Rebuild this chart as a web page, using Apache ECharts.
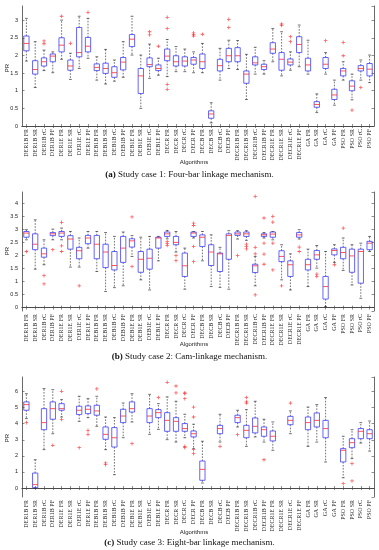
<!DOCTYPE html>
<html><head><meta charset="utf-8">
<script src="https://cdn.jsdelivr.net/npm/echarts@6/dist/echarts.min.js"></script>
<style>html,body{margin:0;padding:0;background:#fff}#c{width:379px;height:550px}</style>
</head><body><div id="c"></div>
<script>
const categories = [
 'DER1B FR','DER1B SR','DER1B rC','DER1B PF','DER1E FR','DER1E SR','DER1E rC','DER1E PF',
 'DEB1B FR','DEB1B SR','DEB1B rC','DEB1B PF','DEB1E FR','DEB1E SR','DEB1E rC','DEB1E PF',
 'DECR FR','DECR SR','DECR rC','DECR PF','DECB FR','DECB SR','DECB rC','DECB PF',
 'DECR1B FR','DECR1B SR','DECR1B rC','DECR1B PF','DECR1E FR','DECR1E SR','DECR1E rC','DECR1E PF',
 'GA FR','GA SR','GA rC','GA PF','PSO FR','PSO SR','PSO rC','PSO PF'];

// Panel (a) Four-bar linkage
const aLow  = [1.84,1.09,1.57,1.51,1.89,1.32,1.63,1.92,1.30,1.19,1.27,1.38,2.01,0.50,1.35,1.44,1.40,1.54,1.54,1.51,1.51,0.09,1.30,1.63,1.60,0.75,1.47,1.47,1.82,1.42,1.58,1.68,1.47,0.38,1.47,0.59,1.30,0.74,1.30,1.23];
const aQ1   = [2.13,1.47,1.70,1.82,2.10,1.58,1.96,2.10,1.57,1.49,1.38,1.59,2.25,0.92,1.68,1.57,1.85,1.70,1.70,1.75,1.63,0.22,1.56,1.82,1.82,1.21,1.73,1.60,2.06,1.58,1.73,2.08,1.56,0.53,1.63,0.75,1.42,1.00,1.56,1.42];
const aMed  = [2.34,1.60,1.82,1.98,2.29,1.70,2.08,2.26,1.66,1.63,1.51,1.81,2.46,1.42,1.74,1.63,1.98,1.82,1.84,1.87,1.82,0.34,1.71,1.99,1.99,1.47,1.79,1.68,2.18,1.89,1.81,2.31,1.73,0.61,1.75,0.88,1.56,1.13,1.63,1.61];
const aQ3   = [2.55,1.85,1.93,2.04,2.50,1.87,2.79,2.51,1.76,1.78,1.68,1.94,2.59,1.63,1.93,1.73,2.18,1.99,1.96,1.94,2.04,0.43,1.89,2.20,2.22,1.56,1.96,1.75,2.36,2.08,1.90,2.53,1.92,0.69,1.94,1.04,1.63,1.28,1.71,1.77];
const aHigh = [3.05,2.39,2.15,2.10,3.00,2.06,3.11,3.05,1.96,2.17,1.87,2.39,3.11,2.01,2.32,1.92,2.45,2.25,2.18,2.10,2.34,0.66,2.20,2.43,2.42,2.03,2.23,1.85,2.76,2.67,2.10,2.86,2.43,0.91,2.08,1.30,1.82,1.47,1.87,2.01];
const aOut  = [[2,2.41],[2,2.33],[4,3.11],[5,2.34],[7,3.22],[14,2.67],[14,2.58],[15,2.26],[16,3.08],[16,2.76],[16,1.18],[16,1.04],[19,2.64],[19,2.59],[19,2.55],[20,2.60],[23,3.02],[23,2.79],[29,2.89],[29,2.85],[30,2.53],[30,2.39],[34,2.42],[36,2.37],[36,1.99],[37,0.45],[38,1.09]];

// Panel (b) Cam-linkage
const bLow  = [2.61,1.48,1.65,2.61,2.61,1.56,1.56,2.29,1.39,0.62,0.77,0.84,1.97,1.07,0.68,1.80,2.65,2.14,0.71,2.68,1.80,0.81,0.78,0.71,2.64,2.59,0.84,2.68,2.61,1.07,0.68,2.64,0.81,1.52,0.04,1.74,1.43,0.87,0.36,2.16];
const bQ1   = [2.71,2.23,1.94,2.77,2.74,2.25,1.88,2.46,1.88,1.54,1.45,1.74,2.33,1.36,1.48,2.29,2.74,2.42,1.20,2.74,2.35,1.62,1.39,1.86,2.78,2.74,1.35,2.74,2.71,1.77,1.20,2.71,1.45,1.86,0.33,2.03,1.88,1.36,0.94,2.23];
const bMed  = [2.87,2.44,2.07,2.84,2.87,2.64,2.19,2.68,2.44,2.14,1.62,2.29,2.57,1.86,1.90,2.68,2.84,2.51,1.61,2.87,2.71,2.14,2.07,2.78,2.84,2.84,1.61,2.80,2.83,1.97,1.65,2.80,1.65,2.03,0.81,2.20,2.12,1.99,2.16,2.48];
const bQ3   = [2.93,2.84,2.29,2.89,2.93,2.77,2.32,2.78,2.78,2.44,2.16,2.74,2.65,2.16,2.25,2.71,2.91,2.74,2.10,2.91,2.80,2.42,2.10,2.84,2.91,2.91,1.67,2.84,2.91,2.19,1.80,2.89,1.86,2.20,1.20,2.26,2.32,2.25,2.25,2.55];
const bHigh = [3.00,3.38,2.61,3.02,3.06,2.93,2.68,2.93,2.93,2.89,2.74,2.91,2.77,2.71,2.74,2.74,2.97,2.93,2.29,2.93,2.93,2.80,2.32,2.96,2.96,2.96,1.97,2.89,2.93,2.42,2.07,3.00,2.25,2.39,2.16,2.42,2.68,2.42,2.48,2.74];
const bOut  = [[0,2.16],[2,1.23],[2,0.91],[3,2.23],[4,3.28],[4,2.38],[4,2.16],[6,0.84],[12,3.49],[12,1.58],[16,2.55],[16,2.46],[16,2.39],[17,2.00],[17,1.81],[19,3.25],[19,3.16],[19,2.35],[19,1.77],[24,2.00],[25,2.44],[25,2.35],[25,2.26],[26,4.28],[26,2.32],[26,2.07],[26,0.49],[27,3.45],[27,2.48],[27,2.06],[27,1.67],[28,3.51],[28,3.29],[28,2.48],[28,1.45],[29,0.84],[31,2.33],[31,2.16],[33,1.29],[33,1.20],[35,1.65],[36,3.06]];

// Panel (c) Eight-bar linkage (null = no box)
const cLow  = [4.32,0.00,2.39,3.38,4.42,null,4.15,4.38,3.84,2.39,0.83,3.13,4.11,null,3.34,3.65,3.01,2.86,3.13,2.45,0.31,null,2.86,null,3.80,2.59,3.18,2.86,2.35,null,3.38,null,2.59,2.86,1.62,null,0.64,1.83,2.80,2.30];
const cQ1   = [4.84,0.02,3.63,4.28,4.84,null,4.57,4.63,4.53,3.03,2.55,4.07,4.73,null,4.07,4.38,3.53,3.53,3.53,3.18,0.48,null,3.38,null,4.07,3.13,3.43,3.22,2.93,null,3.94,null,3.63,3.80,3.13,null,1.62,2.51,3.07,3.07];
const cMed  = [5.19,0.21,4.07,4.94,4.94,null,4.84,4.90,4.80,3.34,3.13,4.48,4.94,null,4.48,4.69,4.21,4.15,3.70,3.38,1.16,null,3.70,null,4.38,3.59,3.84,3.63,3.22,null,4.21,null,4.07,4.21,3.70,null,2.35,2.82,3.53,3.38];
const cQ3   = [5.36,0.93,4.94,5.36,5.25,null,5.09,5.11,5.15,3.80,3.76,4.90,5.36,null,4.94,4.88,4.69,4.38,4.01,3.55,1.68,null,3.90,null,4.53,3.90,4.36,3.80,3.55,null,4.46,null,4.42,4.67,4.21,null,2.45,3.07,3.70,3.63];
const cHigh = [5.87,1.76,6.19,6.12,5.50,null,5.71,5.56,5.71,4.42,4.38,5.29,5.87,null,5.83,5.25,5.67,5.40,4.59,3.97,2.91,null,4.59,null,4.84,4.88,5.40,4.28,4.11,null,4.80,null,5.04,5.19,5.63,null,3.22,3.63,4.07,4.17];
const cOut  = [[0,4.07],[3,2.66],[4,6.02],[4,4.26],[6,2.51],[7,3.59],[7,3.34],[8,6.17],[9,1.56],[9,1.45],[12,2.76],[15,5.63],[16,6.58],[17,6.35],[17,5.92],[18,5.92],[18,5.87],[18,5.56],[18,2.59],[18,2.51],[19,5.04],[19,4.42],[19,2.39],[19,2.14],[22,2.59],[24,3.32],[25,5.63],[25,5.36],[25,5.29],[27,1.76],[30,5.29],[36,0.27],[37,1.52],[37,0.44]];

const yTicksA = {min:0, max:3.4, interval:0.5};
const yTicksB = {min:-0.13, max:4.45, splitNumber:9};
const yTicksC = {min:-0.56, max:6.91, splitNumber:7};

const captions = [
  {tag:'(a)', text:' Study case 1: Four-bar linkage mechanism.'},
  {tag:'(b)', text:' Study case 2: Cam-linkage mechanism.'},
  {tag:'(c)', text:' Study case 3: Eight-bar linkage mechanism.'}
];

const gridsPos = [{top:6,height:120},{top:192,height:119},{top:377,height:120}];
const axisColor = '#444';
const SERIF = '"Liberation Serif","DejaVu Serif",serif';
const SANS = '"Liberation Sans","DejaVu Sans",sans-serif';

function boxData(lo,q1,md,q3,hi){
  const out=[];
  for(let i=0;i<categories.length;i++){
    if(lo[i]==null) continue;
    out.push([i,lo[i],q1[i],md[i],q3[i],hi[i]]);
  }
  return out;
}
function renderBox(params, api){
  const x = api.value(0);
  const pLo=api.coord([x,api.value(1)]), pQ1=api.coord([x,api.value(2)]), pMd=api.coord([x,api.value(3)]),
        pQ3=api.coord([x,api.value(4)]), pHi=api.coord([x,api.value(5)]);
  const band = api.size([1,0])[0];
  const bw = band*0.6, cw = band*0.32;
  const cx = pMd[0];
  const dash = {stroke:'#111',lineWidth:0.6,lineDash:[1.6,1.4]};
  const solid = {stroke:'#111',lineWidth:0.6};
  return {type:'group', children:[
    {type:'line', shape:{x1:cx,y1:pQ3[1],x2:cx,y2:pHi[1]}, style:dash},
    {type:'line', shape:{x1:cx,y1:pQ1[1],x2:cx,y2:pLo[1]}, style:dash},
    {type:'line', shape:{x1:cx-cw/2,y1:pHi[1],x2:cx+cw/2,y2:pHi[1]}, style:solid},
    {type:'line', shape:{x1:cx-cw/2,y1:pLo[1],x2:cx+cw/2,y2:pLo[1]}, style:solid},
    {type:'rect', shape:{x:cx-bw/2,y:pQ3[1],width:bw,height:pQ1[1]-pQ3[1]}, style:{fill:'none',stroke:'#3d3dff',lineWidth:0.8}},
    {type:'line', shape:{x1:cx-bw/2,y1:pMd[1],x2:cx+bw/2,y2:pMd[1]}, style:{stroke:'#ff2a2a',lineWidth:0.8}}
  ]};
}

const grids=[], xAxes=[], yAxes=[], series=[];
const yCfg=[yTicksA,yTicksB,yTicksC];
const panels=[[aLow,aQ1,aMed,aQ3,aHigh,aOut],[bLow,bQ1,bMed,bQ3,bHigh,bOut],[cLow,cQ1,cMed,cQ3,cHigh,cOut]];
gridsPos.forEach((g,k)=>{
  grids.push({left:22, width:352, top:g.top, height:g.height, containLabel:false});
});
for(let k=0;k<3;k++){
  xAxes.push({type:'category', gridIndex:k, data:categories, position:'bottom', boundaryGap:true,
    axisLine:{show:true,lineStyle:{color:axisColor,width:0.8}},
    axisTick:{show:true,inside:true,length:2,alignWithLabel:true,lineStyle:{color:axisColor,width:0.6}},
    axisLabel:{show:true,rotate:90,interval:0,margin:3,fontSize:6,fontFamily:SERIF,color:'#222'},
    splitLine:{show:false}});
}
for(let k=0;k<3;k++){
  xAxes.push({type:'category', gridIndex:k, data:categories, position:'top', boundaryGap:true,
    axisLine:{show:true,lineStyle:{color:axisColor,width:0.8}},
    axisTick:{show:true,inside:true,length:2,alignWithLabel:true,interval:0,lineStyle:{color:axisColor,width:0.6}},
    axisLabel:{show:false}, splitLine:{show:false}});
}
for(let k=0;k<3;k++){
  yAxes.push(Object.assign({type:'value', gridIndex:k, position:'left',
    axisLine:{show:true,lineStyle:{color:axisColor,width:0.8}},
    axisTick:{show:true,inside:true,length:2.5,lineStyle:{color:axisColor,width:0.6}},
    axisLabel:{show:true,fontSize:5.5,fontFamily:SANS,color:'#222',margin:4,showMinLabel:k===0,showMaxLabel:false},
    splitLine:{show:false}}, yCfg[k]));
}
for(let k=0;k<3;k++){
  yAxes.push(Object.assign({type:'value', gridIndex:k, position:'right',
    axisLine:{show:true,lineStyle:{color:axisColor,width:0.8}},
    axisTick:{show:true,inside:true,length:2.5,lineStyle:{color:axisColor,width:0.6}},
    axisLabel:{show:false}, splitLine:{show:false}}, yCfg[k]));
}
panels.forEach((p,k)=>{
  series.push({type:'custom', xAxisIndex:k, yAxisIndex:k, renderItem:renderBox,
    encode:{x:0,y:[1,2,3,4,5]}, data:boxData(p[0],p[1],p[2],p[3],p[4]), silent:true, animation:false});
  series.push({type:'scatter', xAxisIndex:k, yAxisIndex:k, data:p[5], silent:true, animation:false,
    symbol:'path://M-0.22,-1H0.22V-0.22H1V0.22H0.22V1H-0.22V0.22H-1V-0.22H-0.22Z',
    symbolSize:3.6, itemStyle:{color:'#ff3030'}});
});

const algY=[162,344,532], capY=[175,357,543], prY=[68,251,438];
const graphic=[];
for(let k=0;k<3;k++){
  graphic.push({type:'text', x:194, y:algY[k], style:{text:'Algorithms', align:'center', verticalAlign:'middle', fontSize:6, fontFamily:SANS, fill:'#222'}});
  graphic.push({type:'text', x:7, y:prY[k], rotation:Math.PI/2, style:{text:'PR', align:'center', verticalAlign:'middle', fontSize:6, fontFamily:SANS, fill:'#222'}});
  graphic.push({type:'text', x:189.5, y:capY[k], style:{text:'{b|'+captions[k].tag+'}'+captions[k].text, align:'center', verticalAlign:'middle', fontSize:9, fontFamily:SERIF, fill:'#111',
    rich:{b:{fontWeight:'bold', fontSize:9, fontFamily:SERIF, fill:'#111'}}}});
}

const chart = echarts.init(document.getElementById('c'), null, {renderer:'canvas'});
chart.setOption({animation:false, backgroundColor:'#fff', grid:grids, xAxis:xAxes, yAxis:yAxes, series:series, graphic:graphic});
</script></body></html>
